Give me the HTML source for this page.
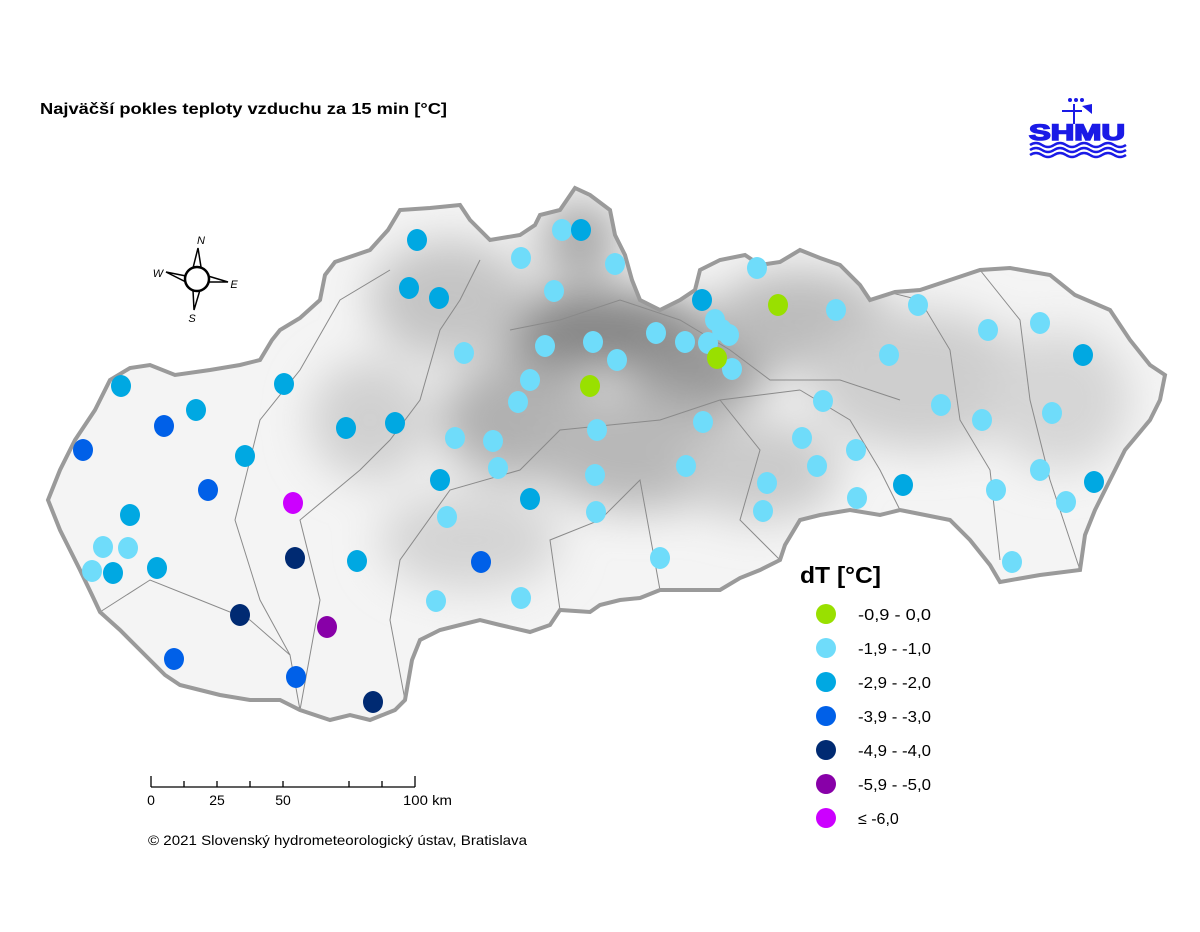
<!DOCTYPE html>
<html><head><meta charset="utf-8"><style>
body{margin:0;background:#fff;width:1200px;height:927px;overflow:hidden;font-family:"Liberation Sans",Arial,sans-serif}
</style></head><body>
<svg width="1200" height="927" viewBox="0 0 1200 927" xmlns="http://www.w3.org/2000/svg" font-family="Liberation Sans, Arial, sans-serif">
<defs>
<clipPath id="sk"><path id="skp" d="M48,500 L60,470 L75,440 L95,410 L110,380 L130,368 L150,365 L175,375 L210,370 L240,365 L260,360 L272,340 L280,330 L300,318 L320,300 L325,275 L335,262 L370,250 L388,230 L400,210 L430,208 L460,205 L470,220 L490,240 L520,235 L535,225 L540,215 L560,210 L575,188 L590,195 L610,210 L615,235 L625,255 L632,280 L640,300 L660,310 L680,300 L695,290 L700,270 L720,260 L745,255 L760,265 L780,262 L800,250 L820,258 L840,265 L860,285 L870,300 L895,292 L920,290 L950,280 L980,270 L1010,268 L1050,275 L1075,295 L1110,310 L1130,340 L1150,365 L1165,375 L1160,400 L1150,420 L1125,450 L1110,480 L1095,510 L1085,535 L1080,570 L1040,575 L1000,582 L990,565 L970,540 L950,520 L925,515 L900,510 L880,515 L850,510 L820,515 L800,520 L785,545 L780,560 L760,570 L740,578 L720,590 L700,590 L680,590 L660,590 L640,598 L620,600 L600,605 L590,612 L560,610 L550,625 L530,632 L500,625 L480,620 L460,625 L440,630 L420,640 L412,660 L405,700 L395,710 L370,720 L350,715 L330,720 L300,710 L280,700 L250,700 L220,695 L200,690 L180,685 L165,675 L150,660 L140,650 L120,630 L100,612 L92,595 L80,570 L70,550 L60,530 Z"/></clipPath>
<filter id="bl"><feGaussianBlur stdDeviation="22"/></filter>
</defs>
<g clip-path="url(#sk)">
<rect x="0" y="150" width="1200" height="600" fill="#f4f4f4"/>
<g filter="url(#bl)">
<ellipse cx="600" cy="330" rx="110" ry="40" fill="#858585"/>
<ellipse cx="700" cy="370" rx="70" ry="40" fill="#959595"/>
<ellipse cx="520" cy="420" rx="80" ry="60" fill="#b0b0b0"/>
<ellipse cx="640" cy="450" rx="110" ry="60" fill="#b8b8b8"/>
<ellipse cx="450" cy="300" rx="80" ry="60" fill="#c4c4c4"/>
<ellipse cx="800" cy="320" rx="90" ry="50" fill="#bcbcbc"/>
<ellipse cx="920" cy="380" rx="110" ry="70" fill="#cecece"/>
<ellipse cx="1060" cy="400" rx="70" ry="70" fill="#d6d6d6"/>
<ellipse cx="580" cy="240" rx="40" ry="40" fill="#a8a8a8"/>
<ellipse cx="370" cy="420" rx="60" ry="60" fill="#d0d0d0"/>
<ellipse cx="470" cy="540" rx="90" ry="50" fill="#d4d4d4"/>
<ellipse cx="760" cy="470" rx="80" ry="50" fill="#cacaca"/>
</g>
<g fill="none" stroke="#8a8a8a" stroke-width="1">
<path d="M100,612 L150,580 L200,600 L250,620 L290,655 L300,710"/>
<path d="M290,655 L260,600 L235,520 L260,420 L300,370 L340,300 L390,270"/>
<path d="M300,710 L320,600 L300,520 L360,470 L390,440 L420,400 L440,330 L460,300 L480,260"/>
<path d="M405,700 L390,620 L400,560 L450,490 L520,470 L560,430 L660,420 L720,400 L800,390"/>
<path d="M560,610 L550,540 L600,520 L640,480 L660,590"/>
<path d="M720,400 L760,450 L740,520 L780,560"/>
<path d="M800,390 L850,420 L880,470 L900,510"/>
<path d="M860,285 L920,300 L950,350 L960,420 L990,470 L1000,560"/>
<path d="M980,270 L1020,320 L1030,400 L1050,480 L1080,570"/>
<path d="M510,330 L560,320 L620,300 L680,320 L730,350 L770,380 L840,380 L900,400"/>
</g>
</g>
<use href="#skp" fill="none" stroke="#9a9a9a" stroke-width="4"/>

<text x="40" y="114" font-size="16" font-weight="bold" fill="#000" textLength="407" lengthAdjust="spacingAndGlyphs">Najväčší pokles teploty vzduchu za 15 min [°C]</text>

<!-- logo -->
<g fill="#1a1ae6">
<rect x="1073" y="104" width="2" height="20"/>
<rect x="1062" y="110" width="20" height="2"/>
<circle cx="1070" cy="100" r="2"/><circle cx="1076" cy="100" r="2"/><circle cx="1082" cy="100" r="2"/>
<path d="M1082,106 L1092,104 L1092,114 Z"/>
<text x="1077" y="140" font-size="22" font-weight="bold" text-anchor="middle" font-family="Liberation Sans" textLength="96" lengthAdjust="spacingAndGlyphs" stroke="#1a1ae6" stroke-width="1.5">SHMU</text>
</g>
<g fill="none" stroke="#1a1ae6" stroke-width="2.5">
<path d="M1030,145 q6,-4 12,0 t12,0 t12,0 t12,0 t12,0 t12,0 t12,0 t12,0"/>
<path d="M1030,150 q6,-4 12,0 t12,0 t12,0 t12,0 t12,0 t12,0 t12,0 t12,0"/>
<path d="M1030,155 q6,-4 12,0 t12,0 t12,0 t12,0 t12,0 t12,0 t12,0 t12,0"/>
</g>

<!-- compass -->
<g>
<path d="M193,268 L198,248 L201,267 Z" fill="#fff" stroke="#000" stroke-width="1.5"/>
<path d="M193,290 L194,310 L200,290 Z" fill="#fff" stroke="#000" stroke-width="1.5"/>
<path d="M186,276 L166,272 L186,282 Z" fill="#fff" stroke="#000" stroke-width="1.5"/>
<path d="M208,276 L228,282 L208,282 Z" fill="#fff" stroke="#000" stroke-width="1.5"/>
<circle cx="197" cy="279" r="12" fill="#fff" stroke="#000" stroke-width="2.5"/>
<text x="201" y="244" font-size="11" font-style="italic" text-anchor="middle">N</text>
<text x="158" y="277" font-size="11" font-style="italic" text-anchor="middle">W</text>
<text x="234" y="288" font-size="11" font-style="italic" text-anchor="middle">E</text>
<text x="192" y="322" font-size="11" font-style="italic" text-anchor="middle">S</text>
</g>

<!-- dots -->
<g>
<g fill="#6fdcfa">
<ellipse cx="562" cy="230" rx="10" ry="11"/><ellipse cx="521" cy="258" rx="10" ry="11"/><ellipse cx="615" cy="264" rx="10" ry="11"/><ellipse cx="757" cy="268" rx="10" ry="11"/><ellipse cx="554" cy="291" rx="10" ry="11"/><ellipse cx="836" cy="310" rx="10" ry="11"/><ellipse cx="918" cy="305" rx="10" ry="11"/><ellipse cx="988" cy="330" rx="10" ry="11"/><ellipse cx="1040" cy="323" rx="10" ry="11"/><ellipse cx="715" cy="320" rx="10" ry="11"/><ellipse cx="722" cy="330" rx="10" ry="11"/><ellipse cx="729" cy="335" rx="10" ry="11"/><ellipse cx="656" cy="333" rx="10" ry="11"/><ellipse cx="685" cy="342" rx="10" ry="11"/><ellipse cx="708" cy="343" rx="10" ry="11"/><ellipse cx="464" cy="353" rx="10" ry="11"/><ellipse cx="545" cy="346" rx="10" ry="11"/><ellipse cx="593" cy="342" rx="10" ry="11"/><ellipse cx="617" cy="360" rx="10" ry="11"/><ellipse cx="732" cy="369" rx="10" ry="11"/><ellipse cx="889" cy="355" rx="10" ry="11"/><ellipse cx="530" cy="380" rx="10" ry="11"/><ellipse cx="518" cy="402" rx="10" ry="11"/><ellipse cx="823" cy="401" rx="10" ry="11"/><ellipse cx="941" cy="405" rx="10" ry="11"/><ellipse cx="982" cy="420" rx="10" ry="11"/><ellipse cx="1052" cy="413" rx="10" ry="11"/><ellipse cx="455" cy="438" rx="10" ry="11"/><ellipse cx="493" cy="441" rx="10" ry="11"/><ellipse cx="597" cy="430" rx="10" ry="11"/><ellipse cx="703" cy="422" rx="10" ry="11"/><ellipse cx="802" cy="438" rx="10" ry="11"/><ellipse cx="856" cy="450" rx="10" ry="11"/><ellipse cx="498" cy="468" rx="10" ry="11"/><ellipse cx="686" cy="466" rx="10" ry="11"/><ellipse cx="817" cy="466" rx="10" ry="11"/><ellipse cx="1040" cy="470" rx="10" ry="11"/><ellipse cx="595" cy="475" rx="10" ry="11"/><ellipse cx="767" cy="483" rx="10" ry="11"/><ellipse cx="996" cy="490" rx="10" ry="11"/><ellipse cx="857" cy="498" rx="10" ry="11"/><ellipse cx="1066" cy="502" rx="10" ry="11"/><ellipse cx="447" cy="517" rx="10" ry="11"/><ellipse cx="596" cy="512" rx="10" ry="11"/><ellipse cx="763" cy="511" rx="10" ry="11"/><ellipse cx="103" cy="547" rx="10" ry="11"/><ellipse cx="128" cy="548" rx="10" ry="11"/><ellipse cx="660" cy="558" rx="10" ry="11"/><ellipse cx="1012" cy="562" rx="10" ry="11"/><ellipse cx="92" cy="571" rx="10" ry="11"/><ellipse cx="436" cy="601" rx="10" ry="11"/><ellipse cx="521" cy="598" rx="10" ry="11"/>
</g>
<g fill="#00a8e2">
<ellipse cx="417" cy="240" rx="10" ry="11"/><ellipse cx="581" cy="230" rx="10" ry="11"/><ellipse cx="409" cy="288" rx="10" ry="11"/><ellipse cx="439" cy="298" rx="10" ry="11"/><ellipse cx="702" cy="300" rx="10" ry="11"/><ellipse cx="1083" cy="355" rx="10" ry="11"/><ellipse cx="121" cy="386" rx="10" ry="11"/><ellipse cx="284" cy="384" rx="10" ry="11"/><ellipse cx="196" cy="410" rx="10" ry="11"/><ellipse cx="346" cy="428" rx="10" ry="11"/><ellipse cx="395" cy="423" rx="10" ry="11"/><ellipse cx="245" cy="456" rx="10" ry="11"/><ellipse cx="440" cy="480" rx="10" ry="11"/><ellipse cx="903" cy="485" rx="10" ry="11"/><ellipse cx="1094" cy="482" rx="10" ry="11"/><ellipse cx="530" cy="499" rx="10" ry="11"/><ellipse cx="130" cy="515" rx="10" ry="11"/><ellipse cx="357" cy="561" rx="10" ry="11"/><ellipse cx="113" cy="573" rx="10" ry="11"/><ellipse cx="157" cy="568" rx="10" ry="11"/>
</g>
<g fill="#0060e8">
<ellipse cx="164" cy="426" rx="10" ry="11"/><ellipse cx="83" cy="450" rx="10" ry="11"/><ellipse cx="208" cy="490" rx="10" ry="11"/><ellipse cx="481" cy="562" rx="10" ry="11"/><ellipse cx="174" cy="659" rx="10" ry="11"/><ellipse cx="296" cy="677" rx="10" ry="11"/>
</g>
<g fill="#002a72">
<ellipse cx="295" cy="558" rx="10" ry="11"/><ellipse cx="240" cy="615" rx="10" ry="11"/><ellipse cx="373" cy="702" rx="10" ry="11"/>
</g>
<ellipse cx="327" cy="627" rx="10" ry="11" fill="#8800a8"/>
<ellipse cx="293" cy="503" rx="10" ry="11" fill="#cc00ff"/>
<g fill="#99e000">
<ellipse cx="778" cy="305" rx="10" ry="11"/><ellipse cx="717" cy="358" rx="10" ry="11"/><ellipse cx="590" cy="386" rx="10" ry="11"/>
</g>
</g>

<!-- legend -->
<text x="800" y="583" font-size="23" font-weight="bold" textLength="81" lengthAdjust="spacingAndGlyphs">dT [°C]</text>
<g font-size="16">
<circle cx="826" cy="614" r="10" fill="#99e000"/><text x="858" y="620" textLength="73" lengthAdjust="spacingAndGlyphs">-0,9 - 0,0</text>
<circle cx="826" cy="648" r="10" fill="#6fdcfa"/><text x="858" y="654" textLength="73" lengthAdjust="spacingAndGlyphs">-1,9 - -1,0</text>
<circle cx="826" cy="682" r="10" fill="#00a8e2"/><text x="858" y="688" textLength="73" lengthAdjust="spacingAndGlyphs">-2,9 - -2,0</text>
<circle cx="826" cy="716" r="10" fill="#0060e8"/><text x="858" y="722" textLength="73" lengthAdjust="spacingAndGlyphs">-3,9 - -3,0</text>
<circle cx="826" cy="750" r="10" fill="#002a72"/><text x="858" y="756" textLength="73" lengthAdjust="spacingAndGlyphs">-4,9 - -4,0</text>
<circle cx="826" cy="784" r="10" fill="#8800a8"/><text x="858" y="790" textLength="73" lengthAdjust="spacingAndGlyphs">-5,9 - -5,0</text>
<circle cx="826" cy="818" r="10" fill="#cc00ff"/><text x="858" y="824">≤ -6,0</text>
</g>

<!-- scale bar -->
<g stroke="#000" stroke-width="1.3">
<line x1="151" y1="787" x2="415" y2="787"/>
<line x1="151" y1="776" x2="151" y2="787"/>
<line x1="184" y1="781" x2="184" y2="787"/>
<line x1="217" y1="781" x2="217" y2="787"/>
<line x1="250" y1="781" x2="250" y2="787"/>
<line x1="283" y1="781" x2="283" y2="787"/>
<line x1="349" y1="781" x2="349" y2="787"/>
<line x1="382" y1="781" x2="382" y2="787"/>
<line x1="415" y1="776" x2="415" y2="787"/>
</g>
<g font-size="14">
<text x="151" y="805" text-anchor="middle">0</text>
<text x="217" y="805" text-anchor="middle">25</text>
<text x="283" y="805" text-anchor="middle">50</text>
<text x="403" y="805" textLength="49" lengthAdjust="spacingAndGlyphs">100 km</text>
</g>
<text x="148" y="845" font-size="14" textLength="379" lengthAdjust="spacingAndGlyphs">© 2021 Slovenský hydrometeorologický ústav, Bratislava</text>
</svg>
</body></html>
